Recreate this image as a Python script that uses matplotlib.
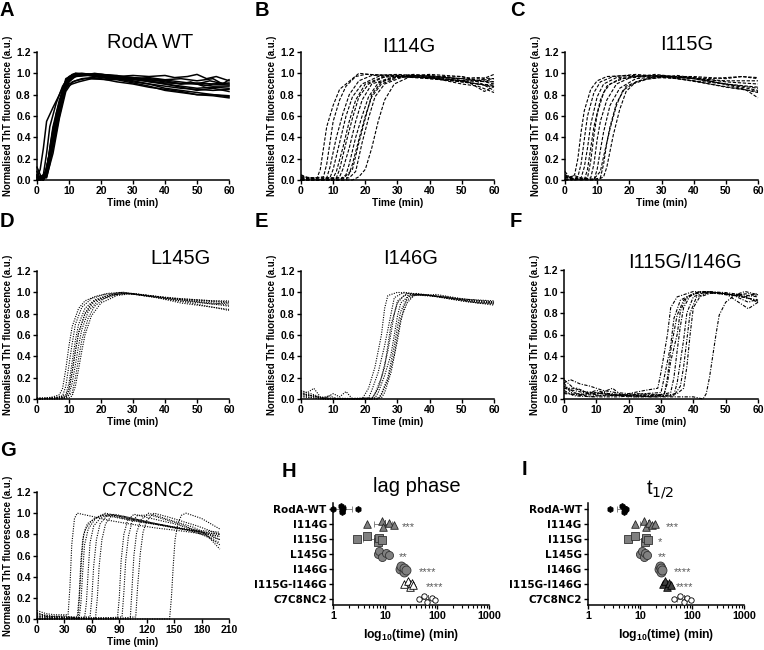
import matplotlib
matplotlib.use('Agg')
import matplotlib.pyplot as plt
import numpy as np

plt.rcParams['font.family'] = ['Liberation Sans', 'DejaVu Sans']
plt.rcParams['mathtext.fontset'] = 'custom'
plt.rcParams['mathtext.rm'] = 'Liberation Sans Narrow'
plt.rcParams['mathtext.bf'] = 'Liberation Sans:bold'
plt.rcParams['mathtext.it'] = 'Liberation Sans:italic'

TITLE_FONT = ['Liberation Sans Narrow', 'Liberation Sans']

# -- ThT kinetics, (time [min], normalised fluorescence) -- #
wt_curves = [
    [(0, 0.02), (1, 0.1), (2, 0.3), (3, 0.55), (5, 0.68), (7, 0.8), (9, 0.93), (11, 0.99), (14, 1.0), (20, 0.98), (25, 0.97), (30, 0.98), (35, 0.97), (40, 0.98), (43, 0.96), (47, 0.97), (50, 0.99), (53, 0.95), (56, 0.97), (60, 0.93)],
    [(0, 0.0), (2, 0.05), (3, 0.25), (4, 0.5), (6, 0.72), (8, 0.88), (10, 0.97), (12, 1.0), (20, 0.99), (30, 0.96), (40, 0.92), (45, 0.9), (50, 0.91), (55, 0.9), (60, 0.91)],
    [(0, 0.05), (1, 0.0), (3, 0.05), (4, 0.3), (5, 0.5), (7, 0.75), (9, 0.92), (11, 0.98), (15, 0.99), (20, 0.97), (25, 0.95), (30, 0.93), (35, 0.9), (40, 0.86), (45, 0.84), (50, 0.82), (55, 0.8), (60, 0.78)],
    [(0, 0.12), (1, 0.05), (2, 0.0), (3, 0.1), (5, 0.45), (7, 0.72), (9, 0.95), (12, 1.0), (18, 0.98), (25, 0.95), (30, 0.92), (35, 0.9), (40, 0.88), (45, 0.86), (50, 0.85), (55, 0.84), (60, 0.85)],
    [(0, 0.0), (2, 0.02), (3, 0.12), (5, 0.4), (7, 0.68), (9, 0.9), (11, 0.97), (13, 0.99), (20, 0.97), (30, 0.95), (35, 0.93), (40, 0.9), (45, 0.88), (50, 0.86), (55, 0.87), (60, 0.86)],
    [(0, 0.03), (2, 0.0), (4, 0.2), (6, 0.55), (8, 0.85), (10, 0.95), (12, 0.97), (16, 0.98), (20, 0.96), (25, 0.94), (30, 0.91), (35, 0.88), (40, 0.84), (45, 0.82), (50, 0.8), (55, 0.79), (60, 0.77)],
    [(0, 0.0), (1, 0.02), (3, 0.08), (5, 0.35), (7, 0.62), (8, 0.78), (10, 0.92), (12, 0.97), (18, 1.0), (25, 0.97), (30, 0.96), (35, 0.94), (40, 0.93), (45, 0.9), (48, 0.92), (52, 0.88), (55, 0.9), (60, 0.89)],
    [(0, 0.08), (1, 0.02), (3, 0.02), (4, 0.15), (6, 0.5), (8, 0.8), (10, 0.9), (12, 0.93), (15, 0.95), (20, 0.95), (25, 0.92), (30, 0.9), (35, 0.87), (40, 0.85), (45, 0.83), (50, 0.8), (55, 0.8), (60, 0.79)],
    [(0, 0.0), (2, 0.0), (3, 0.05), (5, 0.3), (7, 0.6), (9, 0.87), (11, 0.9), (13, 0.92), (17, 0.95), (22, 0.94), (30, 0.95), (35, 0.96), (40, 0.94), (45, 0.95), (50, 0.93), (55, 0.95), (58, 0.9), (60, 0.94)],
    [(0, 0.02), (2, 0.03), (3, 0.1), (5, 0.48), (7, 0.7), (9, 0.88), (11, 0.96), (13, 0.98), (20, 0.99), (25, 0.98), (30, 0.95), (35, 0.92), (40, 0.9), (45, 0.87), (50, 0.84), (55, 0.86), (60, 0.83)],
    [(0, 0.04), (2, 0.0), (4, 0.25), (6, 0.62), (8, 0.83), (10, 0.93), (12, 0.99), (20, 0.98), (28, 0.96), (35, 0.95), (42, 0.93), (50, 0.9), (55, 0.88), (60, 0.88)],
    [(0, 0.0), (3, 0.03), (5, 0.25), (7, 0.58), (9, 0.83), (11, 0.92), (14, 0.95), (20, 0.97), (30, 0.94), (40, 0.91), (50, 0.9), (54, 0.93), (57, 0.91), (60, 0.9)],
]

i114g_curves = [
    [(0, 0.05), (2, 0.02), (5, 0.02), (6, 0.1), (7, 0.3), (8, 0.5), (10, 0.7), (12, 0.85), (14, 0.9), (16, 0.95), (18, 1.0), (25, 0.98), (30, 0.97), (40, 0.95), (50, 0.92), (55, 0.9), (60, 0.89)],
    [(0, 0.03), (4, 0.02), (7, 0.03), (8, 0.15), (9, 0.35), (10, 0.55), (12, 0.75), (14, 0.88), (17, 0.97), (20, 0.99), (30, 0.98), (40, 0.95), (50, 0.93), (60, 0.92)],
    [(0, 0.02), (5, 0.0), (8, 0.02), (9, 0.12), (11, 0.4), (13, 0.62), (15, 0.8), (18, 0.93), (22, 0.98), (30, 0.99), (40, 0.97), (50, 0.95), (55, 0.93), (60, 0.95)],
    [(0, 0.0), (6, 0.02), (9, 0.02), (10, 0.1), (12, 0.35), (14, 0.6), (16, 0.78), (19, 0.9), (24, 0.97), (30, 0.98), (40, 0.96), (50, 0.92), (55, 0.9), (60, 0.88)],
    [(0, 0.04), (5, 0.0), (10, 0.02), (11, 0.08), (13, 0.3), (15, 0.55), (17, 0.75), (20, 0.9), (25, 0.96), (35, 0.99), (45, 0.96), (50, 0.95), (55, 0.92), (60, 0.84)],
    [(0, 0.02), (8, 0.0), (11, 0.02), (12, 0.1), (14, 0.35), (16, 0.58), (18, 0.78), (21, 0.9), (27, 0.98), (35, 0.98), (45, 0.95), (52, 0.92), (57, 0.83), (60, 0.88)],
    [(0, 0.0), (10, 0.0), (12, 0.03), (13, 0.1), (15, 0.3), (17, 0.55), (19, 0.75), (22, 0.9), (28, 0.96), (36, 0.98), (45, 0.97), (50, 0.93), (55, 0.95), (60, 0.92)],
    [(0, 0.01), (12, 0.0), (14, 0.05), (15, 0.15), (17, 0.4), (19, 0.6), (21, 0.78), (24, 0.91), (30, 0.97), (40, 0.96), (50, 0.97), (55, 0.93), (60, 0.99)],
    [(0, 0.0), (14, 0.0), (15, 0.06), (16, 0.15), (18, 0.38), (20, 0.6), (22, 0.78), (25, 0.9), (30, 0.96), (40, 0.98), (48, 0.95), (55, 0.96), (60, 0.95)],
    [(0, 0.02), (15, 0.02), (17, 0.08), (19, 0.35), (21, 0.58), (23, 0.78), (26, 0.9), (32, 0.97), (40, 0.96), (50, 0.93), (55, 0.9), (60, 0.87)],
    [(0, 0.0), (16, 0.0), (18, 0.03), (20, 0.1), (22, 0.3), (24, 0.55), (26, 0.75), (29, 0.9), (34, 0.97), (42, 0.95), (50, 0.9), (55, 0.88), (60, 0.82)],
    [(0, 0.0), (13, 0.01), (16, 0.1), (18, 0.35), (20, 0.58), (22, 0.8), (25, 0.92), (30, 0.97), (40, 0.99), (50, 0.97), (60, 0.9)],
]

i115g_curves = [
    [(0, 0.05), (2, 0.02), (3, 0.05), (4, 0.2), (5, 0.45), (6, 0.65), (8, 0.85), (10, 0.93), (13, 0.97), (20, 0.98), (30, 0.97), (40, 0.95), (50, 0.93), (60, 0.93)],
    [(0, 0.08), (2, 0.0), (4, 0.03), (5, 0.15), (6, 0.38), (7, 0.6), (9, 0.82), (11, 0.92), (15, 0.97), (22, 0.99), (30, 0.97), (40, 0.93), (50, 0.9), (55, 0.88), (60, 0.86)],
    [(0, 0.02), (3, 0.04), (5, 0.02), (6, 0.12), (7, 0.3), (8, 0.52), (10, 0.78), (12, 0.9), (16, 0.96), (25, 0.98), (35, 0.97), (45, 0.95), (55, 0.97), (60, 0.95)],
    [(0, 0.0), (4, 0.02), (6, 0.0), (7, 0.1), (8, 0.3), (9, 0.5), (11, 0.75), (13, 0.88), (17, 0.95), (25, 0.97), (35, 0.95), (45, 0.9), (55, 0.85), (60, 0.83)],
    [(0, 0.03), (5, 0.0), (8, 0.02), (9, 0.15), (10, 0.38), (11, 0.55), (13, 0.75), (16, 0.9), (21, 0.97), (30, 0.98), (40, 0.95), (50, 0.9), (60, 0.87)],
    [(0, 0.0), (6, 0.02), (9, 0.0), (10, 0.1), (11, 0.28), (12, 0.45), (14, 0.7), (17, 0.86), (22, 0.95), (30, 0.97), (40, 0.93), (50, 0.87), (55, 0.85), (60, 0.82)],
    [(0, 0.01), (8, 0.0), (11, 0.02), (12, 0.15), (13, 0.35), (14, 0.5), (16, 0.72), (19, 0.88), (24, 0.94), (30, 0.96), (40, 0.96), (50, 0.92), (60, 0.9)],
    [(0, 0.02), (10, 0.0), (12, 0.03), (13, 0.12), (15, 0.42), (17, 0.66), (19, 0.83), (22, 0.92), (28, 0.97), (40, 0.97), (50, 0.95), (55, 0.97), (60, 0.96)],
    [(0, 0.0), (9, 0.01), (11, 0.08), (12, 0.22), (14, 0.48), (16, 0.7), (18, 0.84), (21, 0.9), (26, 0.95), (35, 0.98), (45, 0.93), (52, 0.88), (56, 0.85), (60, 0.77)],
    [(0, 0.04), (3, 0.0), (7, 0.02), (8, 0.18), (9, 0.42), (10, 0.62), (12, 0.82), (14, 0.9), (18, 0.95), (28, 0.99), (40, 0.95), (50, 0.9), (60, 0.84)],
]

l145g_curves = [
    [(0, 0.0), (3, 0.01), (5, 0.02), (7, 0.04), (8, 0.1), (9, 0.28), (10, 0.5), (11, 0.68), (13, 0.85), (15, 0.92), (18, 0.96), (22, 0.99), (27, 1.0), (35, 0.97), (45, 0.93), (55, 0.9), (60, 0.88)],
    [(0, 0.0), (5, 0.01), (8, 0.03), (9, 0.12), (10, 0.32), (11, 0.52), (12, 0.7), (14, 0.86), (17, 0.94), (21, 0.98), (27, 1.0), (35, 0.96), (45, 0.92), (55, 0.89), (60, 0.9)],
    [(0, 0.01), (6, 0.0), (9, 0.04), (10, 0.15), (11, 0.35), (12, 0.55), (13, 0.7), (15, 0.85), (18, 0.93), (23, 0.98), (28, 0.99), (35, 0.97), (45, 0.94), (55, 0.92), (60, 0.92)],
    [(0, 0.0), (7, 0.01), (9, 0.02), (10, 0.08), (11, 0.25), (12, 0.45), (13, 0.62), (15, 0.8), (18, 0.92), (23, 0.97), (28, 0.99), (36, 0.96), (45, 0.9), (55, 0.86), (60, 0.84)],
    [(0, 0.0), (8, 0.0), (10, 0.04), (11, 0.15), (12, 0.32), (13, 0.5), (14, 0.65), (16, 0.82), (19, 0.92), (24, 0.98), (29, 0.99), (38, 0.95), (48, 0.9), (55, 0.86), (60, 0.83)],
    [(0, 0.01), (9, 0.01), (11, 0.06), (12, 0.2), (13, 0.38), (14, 0.55), (16, 0.76), (18, 0.87), (21, 0.94), (26, 0.99), (32, 0.98), (40, 0.95), (50, 0.93), (60, 0.91)],
    [(0, 0.0), (10, 0.01), (11, 0.03), (12, 0.12), (13, 0.28), (14, 0.45), (15, 0.6), (17, 0.78), (20, 0.9), (25, 0.97), (30, 0.99), (40, 0.95), (50, 0.91), (60, 0.87)],
    [(0, 0.0), (9, 0.02), (10, 0.1), (11, 0.26), (12, 0.45), (13, 0.62), (15, 0.8), (17, 0.9), (21, 0.96), (26, 1.0), (33, 0.97), (42, 0.94), (52, 0.92), (60, 0.9)],
]

i146g_curves = [
    [(0, 0.08), (2, 0.06), (4, 0.1), (6, 0.02), (10, 0.0), (19, 0.0), (21, 0.1), (23, 0.3), (25, 0.6), (26, 0.85), (27, 0.97), (30, 1.0), (40, 0.97), (50, 0.93), (60, 0.9)],
    [(0, 0.07), (3, 0.05), (5, 0.03), (7, 0.0), (10, 0.05), (12, 0.02), (14, 0.07), (16, 0.0), (21, 0.01), (22, 0.08), (24, 0.25), (26, 0.5), (28, 0.8), (29, 0.95), (32, 1.0), (40, 0.97), (50, 0.94), (60, 0.91)],
    [(0, 0.05), (4, 0.03), (7, 0.0), (22, 0.0), (23, 0.05), (25, 0.2), (27, 0.45), (28, 0.62), (29, 0.8), (30, 0.92), (33, 0.99), (40, 0.97), (50, 0.92), (60, 0.88)],
    [(0, 0.04), (5, 0.02), (8, 0.0), (23, 0.01), (24, 0.06), (26, 0.22), (28, 0.42), (29, 0.6), (30, 0.78), (31, 0.9), (34, 0.98), (42, 0.96), (52, 0.91), (60, 0.89)],
    [(0, 0.03), (6, 0.0), (24, 0.0), (25, 0.05), (27, 0.2), (28, 0.35), (29, 0.5), (30, 0.68), (31, 0.82), (33, 0.95), (36, 0.99), (45, 0.95), (55, 0.91), (60, 0.9)],
    [(0, 0.06), (2, 0.04), (6, 0.01), (9, 0.03), (11, 0.0), (22, 0.0), (24, 0.1), (26, 0.3), (27, 0.5), (28, 0.7), (30, 0.9), (32, 0.97), (38, 0.98), (48, 0.94), (60, 0.92)],
    [(0, 0.02), (8, 0.0), (25, 0.01), (26, 0.06), (28, 0.25), (30, 0.55), (31, 0.72), (32, 0.86), (33, 0.93), (36, 0.98), (45, 0.96), (55, 0.9), (60, 0.9)],
    [(0, 0.05), (7, 0.01), (24, 0.0), (25, 0.04), (27, 0.18), (29, 0.42), (30, 0.6), (31, 0.75), (33, 0.9), (35, 0.97), (42, 0.98), (52, 0.93), (60, 0.91)],
]

dm_curves = [
    [(0, 0.15), (2, 0.18), (5, 0.14), (8, 0.12), (12, 0.08), (16, 0.06), (20, 0.05), (25, 0.08), (29, 0.1), (30, 0.25), (32, 0.6), (33, 0.85), (35, 0.95), (40, 1.0), (50, 0.98), (55, 0.95), (60, 0.92)],
    [(0, 0.1), (3, 0.08), (6, 0.06), (10, 0.04), (15, 0.1), (18, 0.03), (25, 0.05), (30, 0.06), (31, 0.2), (33, 0.5), (34, 0.75), (36, 0.92), (40, 0.98), (45, 1.0), (52, 0.97), (57, 0.9), (60, 0.93)],
    [(0, 0.12), (4, 0.05), (8, 0.02), (14, 0.04), (20, 0.03), (27, 0.02), (31, 0.05), (32, 0.15), (33, 0.35), (35, 0.6), (36, 0.82), (38, 0.95), (42, 1.0), (50, 0.98), (57, 0.84), (60, 0.9)],
    [(0, 0.05), (5, 0.04), (10, 0.06), (15, 0.03), (22, 0.05), (30, 0.04), (33, 0.06), (34, 0.2), (35, 0.45), (36, 0.68), (37, 0.85), (39, 0.96), (43, 1.0), (50, 0.99), (55, 0.97), (60, 0.95)],
    [(0, 0.08), (3, 0.03), (9, 0.02), (17, 0.02), (24, 0.04), (32, 0.03), (34, 0.04), (35, 0.15), (36, 0.35), (37, 0.55), (38, 0.8), (40, 0.95), (44, 1.0), (50, 0.98), (56, 0.95), (60, 0.98)],
    [(0, 0.15), (2, 0.06), (7, 0.04), (13, 0.03), (20, 0.04), (28, 0.02), (34, 0.03), (36, 0.12), (37, 0.3), (38, 0.55), (39, 0.8), (41, 0.95), (45, 0.99), (52, 0.97), (58, 0.93), (60, 0.91)],
    [(0, 0.1), (4, 0.1), (8, 0.05), (15, 0.05), (22, 0.02), (30, 0.03), (35, 0.05), (37, 0.1), (38, 0.3), (39, 0.6), (40, 0.85), (42, 0.95), (46, 0.99), (52, 0.96), (56, 1.0), (60, 0.97)],
    [(0, 0.18), (3, 0.1), (6, 0.07), (12, 0.05), (20, 0.02), (30, 0.02), (40, 0.02), (43, 0.0), (44, 0.05), (45, 0.2), (46, 0.4), (47, 0.6), (48, 0.78), (50, 0.9), (53, 0.97), (57, 0.98), (60, 0.96)],
    [(0, 0.06), (5, 0.03), (10, 0.08), (15, 0.04), (25, 0.03), (31, 0.04), (32, 0.2), (33, 0.45), (34, 0.62), (35, 0.78), (37, 0.92), (41, 0.99), (48, 0.98), (55, 0.96), (60, 0.9)],
]

c7_curves = [
    [(0, 0.08), (10, 0.05), (20, 0.04), (34, 0.04), (36, 0.3), (38, 0.7), (41, 0.95), (44, 1.0), (60, 0.97), (80, 0.93), (100, 0.9), (130, 0.86), (160, 0.83), (200, 0.78)],
    [(0, 0.05), (15, 0.03), (30, 0.02), (44, 0.02), (46, 0.2), (48, 0.55), (50, 0.75), (53, 0.85), (60, 0.93), (70, 0.98), (80, 0.97), (110, 0.92), (140, 0.88), (170, 0.83), (200, 0.8)],
    [(0, 0.03), (20, 0.01), (45, 0.01), (47, 0.3), (49, 0.6), (51, 0.8), (55, 0.9), (65, 0.96), (75, 1.0), (100, 0.95), (130, 0.9), (160, 0.85), (200, 0.82)],
    [(0, 0.06), (12, 0.02), (30, 0.03), (46, 0.0), (48, 0.15), (50, 0.45), (52, 0.7), (56, 0.85), (64, 0.95), (74, 0.99), (100, 0.94), (140, 0.88), (180, 0.82), (200, 0.78)],
    [(0, 0.02), (25, 0.02), (52, 0.01), (54, 0.15), (56, 0.45), (58, 0.72), (62, 0.88), (70, 0.96), (80, 0.99), (110, 0.93), (150, 0.86), (200, 0.8)],
    [(0, 0.04), (30, 0.01), (58, 0.02), (60, 0.2), (62, 0.5), (65, 0.75), (69, 0.9), (76, 0.97), (85, 0.99), (120, 0.92), (160, 0.85), (200, 0.75)],
    [(0, 0.0), (40, 0.0), (64, 0.01), (66, 0.2), (68, 0.5), (71, 0.75), (75, 0.9), (82, 0.98), (95, 0.97), (130, 0.9), (170, 0.84), (200, 0.72)],
    [(0, 0.0), (50, 0.01), (88, 0.01), (90, 0.2), (92, 0.55), (95, 0.8), (99, 0.93), (106, 0.99), (120, 0.96), (150, 0.9), (180, 0.82), (200, 0.7)],
    [(0, 0.02), (60, 0.0), (93, 0.02), (95, 0.25), (97, 0.55), (100, 0.78), (104, 0.92), (110, 0.98), (125, 0.98), (155, 0.9), (185, 0.8), (200, 0.66)],
    [(0, 0.0), (70, 0.01), (102, 0.0), (104, 0.3), (106, 0.6), (109, 0.82), (114, 0.94), (122, 1.0), (140, 0.95), (170, 0.87), (200, 0.75)],
    [(0, 0.0), (90, 0.0), (145, 0.0), (147, 0.2), (149, 0.5), (151, 0.75), (154, 0.9), (158, 0.98), (163, 1.0), (180, 0.95), (200, 0.85)],
    [(0, 0.01), (80, 0.0), (108, 0.02), (110, 0.3), (113, 0.62), (116, 0.82), (120, 0.93), (128, 1.0), (145, 0.96), (175, 0.88), (200, 0.8)],
]

# -- Lag phase and t1/2 per construct (min) -- #
categories = ['RodA-WT', 'I114G', 'I115G', 'L145G', 'I146G', 'I115G-I146G', 'C7C8NC2']
lag_wt = [1.0, 1.45, 1.5, 1.55, 1.5, 3.0]
lag_i114g = [4.5, 8.8, 9.3, 11.8, 14.7]
lag_i115g = [2.95, 4.5, 7.2, 7.6, 8.9]
lag_l145g = [7.4, 7.6, 8.9, 10.4, 11.8]
lag_i146g = [19.2, 20.7, 22.9, 23.5, 25.0]
lag_dm = [23.0, 27.3, 30.8, 33.0, 34.5]
lag_c7 = [44.7, 56.0, 65.0, 81.0, 91.0]
lag_stars = ['', '***', '', '**', '****', '****', '']

th_wt = [2.66, 4.6, 4.9, 5.0, 5.1, 5.3]
th_i114g = [7.9, 11.7, 13.3, 14.7, 17.0, 19.8]
th_i115g = [5.85, 7.9, 12.5, 13.2, 14.0]
th_l145g = [10.2, 11.0, 11.8, 12.5, 13.5]
th_i146g = [23.0, 24.0, 25.0, 25.5, 26.6]
th_dm = [27.5, 30.0, 33.0, 36.0, 39.0]
th_c7 = [46.0, 60.0, 69.0, 81.0, 94.0]
th_stars = ['', '***', '*', '**', '****', '****', '']

W, H = 764, 650
fig = plt.figure(figsize=(W / 100, H / 100), dpi=100)


def px_axes(left, top, right, bottom):
    return fig.add_axes([left / W, 1 - bottom / H, (right - left) / W, (bottom - top) / H])


def spines(ax):
    for s in ('top', 'right'):
        ax.spines[s].set_visible(False)
    for s in ('left', 'bottom'):
        ax.spines[s].set_linewidth(1.1)
    ax.tick_params(width=1.0, length=3, pad=1.5)


def fig_text(x, y, s, **kw):
    fig.text(x / W, 1 - y / H, s, **kw)


def curve_panel(box, curves, title, title_xy, letter, letter_xy, dashes, xmax, xstep, lw=0.8):
    ax = px_axes(*box)
    spines(ax)
    for c in curves:
        t, y = zip(*c)
        line, = ax.plot(t, y, color='black', lw=lw, clip_on=False)
        if dashes:
            line.set_dashes(dashes)
    ax.set_xlim(0, xmax)
    ax.set_ylim(0, 1.2)
    xt = np.arange(0, xmax + 1, xstep)
    ax.set_xticks(xt, [str(v) for v in xt], fontsize=7.5, fontweight='bold')
    yt = np.arange(0, 1.21, 0.2)
    ax.set_yticks(yt, [f'{v:.1f}' for v in yt], fontsize=7.5, fontweight='bold')
    ax.set_xlabel('Time (min)', fontsize=7.3, fontweight='bold', labelpad=1)
    ax.set_ylabel('Normalised ThT fluorescence (a.u.)', fontsize=6.9, fontweight='bold', labelpad=2)
    fig_text(*title_xy, title, fontsize=14.5, family=TITLE_FONT, ha='center', va='center')
    fig_text(*letter_xy, letter, fontsize=14.5, fontweight='bold', ha='left', va='top')
    return ax


curve_panel((37, 52, 229, 180), wt_curves, 'RodA WT', (150, 43), 'A', (0, 1), None, 60, 10, lw=1.1)
curve_panel((301, 52, 494, 180), i114g_curves, 'I114G', (409, 47), 'B', (255, 1), (3, 1.5), 60, 10)
curve_panel((565, 52, 758, 180), i115g_curves, 'I115G', (687, 45), 'C', (510, 1), (3, 1.5), 60, 10)
curve_panel((37, 271, 229, 399), l145g_curves, 'L145G', (180, 259), 'D', (0, 212), (1, 1.2), 60, 10)
curve_panel((301, 271, 494, 399), i146g_curves, 'I146G', (411, 259), 'E', (255, 212), (1, 1.2), 60, 10)
curve_panel((564, 270, 758, 399), dm_curves, 'I115G/I146G', (685, 263), 'F', (510, 212), (3, 1.3, 1, 1.3), 60, 10)
curve_panel((37, 492, 229, 619), c7_curves, 'C7C8NC2', (148, 490), 'G', (0, 441), (1, 1.2), 210, 30)

# marker style per construct
mk = [
    dict(marker='h', s=18, fc='black', ec='black'),
    dict(marker='^', s=30, fc='0.5', ec='0.15'),
    dict(marker='s', s=34, fc='0.5', ec='0.2'),
    dict(marker='o', s=34, fc='0.5', ec='0.2'),
    dict(marker='o', s=42, fc='0.5', ec='0.2'),
    dict(marker='^', s=30, fc='white', ec='black'),
    dict(marker='o', s=15, fc='white', ec='black'),
]
mk_th = [dict(d) for d in mk]
mk_th[5].update(fc='0.25', ec='black')

jit = [0.0, -0.18, 0.18, -0.09, 0.09, 0.0]


def scatter_panel(box, groups, markers, stars, star_x, title, title_xy, letter, letter_xy):
    ax = px_axes(*box)
    spines(ax)
    ax.set_xscale('log')
    ax.set_xlim(1, 1000)
    ax.set_ylim(6.4, -0.4)
    for i, (vals, m) in enumerate(zip(groups, markers)):
        vals = np.asarray(vals)
        mean, sd = vals.mean(), vals.std(ddof=1)
        ax.errorbar(mean, i, xerr=sd, fmt='none', ecolor='0.45', elinewidth=0.6,
                    capsize=2, capthick=0.6, zorder=2)
        ax.plot([mean, mean], [i - 0.25, i + 0.25], color='0.35', lw=0.7, zorder=2)
        ax.scatter(vals, i + np.array(jit[:len(vals)]), linewidths=0.6, zorder=3,
                   clip_on=False, **m)
        if stars[i]:
            ax.text(star_x[i], i + 0.2, stars[i], fontsize=8, color='0.35',
                    ha='center', va='center')
    ax.set_yticks(range(len(categories)), categories, fontsize=7.5, fontweight='bold',
                  family='DejaVu Sans')
    ax.set_xticks([1, 10, 100, 1000], ['1', '10', '100', '1000'], fontsize=7.8, fontweight='bold')
    ax.tick_params(axis='x', which='minor', length=2, width=0.8)
    ax.set_xlabel(r'log$_\mathbf{10}$(time) (min)', fontsize=8.8, fontweight='bold', labelpad=4)
    fig_text(*title_xy, title, fontsize=14.5, family=TITLE_FONT, ha='center', va='center')
    fig_text(*letter_xy, letter, fontsize=14.5, fontweight='bold', ha='left', va='top')


scatter_panel((333, 503, 489, 605),
              [lag_wt, lag_i114g, lag_i115g, lag_l145g, lag_i146g, lag_dm, lag_c7],
              mk, lag_stars, [0, 28, 0, 22.6, 66, 90, 0],
              'lag phase', (417, 487), 'H', (282, 462))
scatter_panel((588, 503, 744, 605),
              [th_wt, th_i114g, th_i115g, th_l145g, th_i146g, th_dm, th_c7],
              mk_th, th_stars, [0, 41.6, 24.7, 26.6, 66, 72, 0],
              r't$_{1/2}$', (660, 490), 'I', (522, 460))

fig.savefig('out.png', dpi=100)
